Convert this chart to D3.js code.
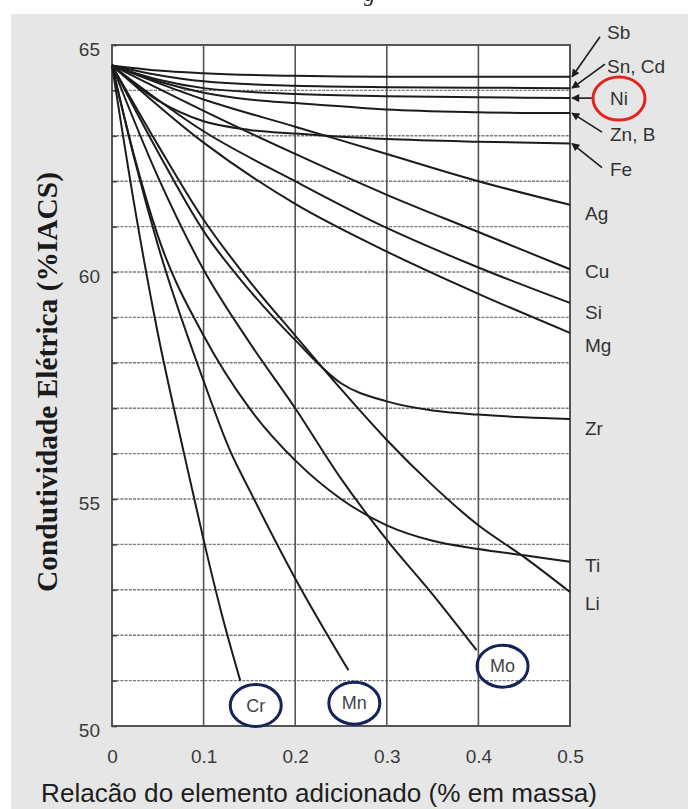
<!DOCTYPE html>
<html>
<head>
<meta charset="utf-8">
<script src="https://cdn.jsdelivr.net/npm/d3@7/dist/d3.min.js"></script>
<style>
  html, body { margin: 0; padding: 0; background: #ffffff; }
  svg { display: block; }
</style>
</head>
<body>
<svg id="chart" width="688" height="809"></svg>
<script>
// Electrical conductivity of copper (%IACS) versus amount of added element (% by mass)

const xTickValues = [0, 0.1, 0.2, 0.3, 0.4, 0.5];
const xTickLabels = ["0", "0.1", "0.2", "0.3", "0.4", "0.5"];
const yTickValues = [50, 51, 52, 53, 54, 55, 56, 57, 58, 59, 60, 61, 62, 63, 64, 65];
const yLabelledTicks = [50, 55, 60, 65];

const elements = ["Sb", "Sn, Cd", "Ni", "Zn, B", "Fe", "Ag", "Cu", "Si", "Mg", "Zr", "Ti", "Li", "Mo", "Mn", "Cr"];

// [added element %, conductivity %IACS]
const sb   = [[0, 64.55], [0.05, 64.44], [0.1, 64.38], [0.2, 64.32], [0.3, 64.3], [0.4, 64.3], [0.5, 64.3]];
const snCd = [[0, 64.55], [0.05, 64.34], [0.1, 64.2], [0.2, 64.1], [0.3, 64.07], [0.4, 64.06], [0.5, 64.05]];
const ni   = [[0, 64.55], [0.05, 64.24], [0.1, 64.05], [0.2, 63.92], [0.3, 63.87], [0.4, 63.85], [0.5, 63.83]];
const znB  = [[0, 64.55], [0.05, 64.2], [0.1, 63.95], [0.15, 63.8], [0.2, 63.72], [0.25, 63.65], [0.3, 63.58], [0.4, 63.52], [0.5, 63.5]];
const fe   = [[0, 64.55], [0.05, 63.78], [0.1, 63.32], [0.15, 63.13], [0.2, 63.05], [0.25, 62.98], [0.3, 62.93], [0.4, 62.87], [0.5, 62.83]];
const ag   = [[0, 64.55], [0.1, 63.8], [0.2, 63.2], [0.3, 62.6], [0.4, 62.0], [0.5, 61.48]];
const cu   = [[0, 64.55], [0.1, 63.55], [0.2, 62.6], [0.3, 61.7], [0.4, 60.88], [0.5, 60.06]];
const si   = [[0, 64.55], [0.1, 63.1], [0.2, 62.0], [0.3, 60.97], [0.4, 60.1], [0.5, 59.32]];
const mg   = [[0, 64.55], [0.1, 62.85], [0.2, 61.5], [0.3, 60.45], [0.4, 59.52], [0.5, 58.66]];
const zr   = [[0, 64.55], [0.05, 62.65], [0.1, 60.9], [0.15, 59.6], [0.2, 58.5], [0.25, 57.55], [0.3, 57.15], [0.35, 56.95], [0.4, 56.86], [0.45, 56.8], [0.5, 56.76]];
const ti   = [[0, 64.55], [0.025, 62.5], [0.05, 60.8], [0.1, 58.6], [0.15, 57.0], [0.2, 55.85], [0.25, 55.0], [0.3, 54.42], [0.35, 54.08], [0.4, 53.9], [0.45, 53.76], [0.5, 53.62]];
const li   = [[0, 64.55], [0.05, 62.8], [0.1, 61.15], [0.15, 59.8], [0.2, 58.6], [0.25, 57.42], [0.3, 56.3], [0.35, 55.3], [0.4, 54.42], [0.45, 53.72], [0.5, 52.95]];
const mo   = [[0, 64.55], [0.05, 62.1], [0.1, 60.05], [0.15, 58.45], [0.2, 57.0], [0.25, 55.45], [0.3, 54.1], [0.35, 52.9], [0.398, 51.67]];
const mn   = [[0, 64.55], [0.025, 62.45], [0.05, 60.6], [0.1, 57.6], [0.129, 56.06], [0.15, 55.2], [0.2, 53.25], [0.258, 51.23]];
const cr   = [[0, 64.55], [0.025, 61.4], [0.05, 58.65], [0.078, 56.06], [0.1, 54.1], [0.12, 52.45], [0.14, 51.0]];

const seriesValues = [sb, snCd, ni, znB, fe, ag, cu, si, mg, zr, ti, li, mo, mn, cr];

// ---- layout ----
const W = 688, H = 809;
const plot = { left: 112, right: 570, top: 45, bottom: 726 };

const x = d3.scaleLinear().domain([0, 0.5]).range([plot.left, plot.right]);
const y = d3.scaleLinear().domain([50, 65]).range([plot.bottom, plot.top]);

const svg = d3.select("#chart");
const sans = "'Liberation Sans', Arial, Helvetica, sans-serif";
const serif = "'Liberation Serif', 'Times New Roman', serif";

// page panel
svg.append("rect").attr("x", 0).attr("y", 0).attr("width", W).attr("height", H).attr("fill", "#ffffff");
svg.append("rect").attr("x", 11).attr("y", 14).attr("width", W - 11).attr("height", H - 14).attr("fill", "#e6e6e6");

// tail of the caption line above the figure
svg.append("text").attr("x", 364).attr("y", 1)
  .attr("font-family", serif).attr("font-style", "italic").attr("font-size", 22)
  .attr("fill", "#222").text("g");

// plot background
svg.append("rect")
  .attr("x", plot.left).attr("y", plot.top)
  .attr("width", plot.right - plot.left).attr("height", plot.bottom - plot.top)
  .attr("fill", "#ffffff");

// horizontal grid (every 1 %IACS)
svg.append("g").selectAll("line")
  .data(yTickValues.filter(v => v > 50 && v < 65))
  .join("line")
  .attr("x1", plot.left).attr("x2", plot.right)
  .attr("y1", d => y(d)).attr("y2", d => y(d))
  .attr("stroke", "#7a7a7a").attr("stroke-width", 1.4)
  .attr("stroke-dasharray", "3,1.2");

// vertical grid
svg.append("g").selectAll("line")
  .data(xTickValues.filter(v => v > 0 && v < 0.5))
  .join("line")
  .attr("x1", d => x(d)).attr("x2", d => x(d))
  .attr("y1", plot.top).attr("y2", plot.bottom)
  .attr("stroke", "#555").attr("stroke-width", 1.6);

// frame
svg.append("rect")
  .attr("x", plot.left).attr("y", plot.top)
  .attr("width", plot.right - plot.left).attr("height", plot.bottom - plot.top)
  .attr("fill", "none").attr("stroke", "#555").attr("stroke-width", 2);

// y axis (inward ticks)
const yAxis = svg.append("g")
  .attr("transform", `translate(${plot.left},0)`)
  .call(d3.axisLeft(y).tickValues(yTickValues).tickSize(-5).tickPadding(12)
    .tickFormat(d => yLabelledTicks.includes(d) ? d : ""));
yAxis.select(".domain").remove();
yAxis.selectAll(".tick line").attr("stroke", "#444").attr("stroke-width", 1.6);
yAxis.selectAll(".tick text")
  .attr("font-family", sans).attr("font-size", 19).attr("fill", "#3a3a3a")
  .attr("y", 4);

// x axis
const xAxis = svg.append("g")
  .attr("transform", `translate(0,${plot.bottom})`)
  .call(d3.axisBottom(x).tickValues(xTickValues).tickSize(0).tickPadding(24)
    .tickFormat((d, i) => xTickLabels[i]));
xAxis.select(".domain").remove();
xAxis.selectAll(".tick text")
  .attr("font-family", sans).attr("font-size", 19).attr("fill", "#3a3a3a");

// curves
const line = d3.line()
  .x(d => x(d[0]))
  .y(d => y(d[1]))
  .curve(d3.curveMonotoneX);

svg.append("g").selectAll("path")
  .data(seriesValues)
  .join("path")
  .attr("d", line)
  .attr("fill", "none")
  .attr("stroke", "#1c1c1c")
  .attr("stroke-width", 2)
  .attr("stroke-linejoin", "round");

// ---- annotations ----
const endOf = name => {
  const s = seriesValues[elements.indexOf(name)];
  const p = s[s.length - 1];
  return [x(p[0]), y(p[1])];
};

// arrowhead
svg.append("defs").append("marker")
  .attr("id", "arrowhead")
  .attr("viewBox", "0 0 10 10")
  .attr("refX", 9).attr("refY", 5)
  .attr("markerWidth", 9).attr("markerHeight", 8)
  .attr("markerUnits", "userSpaceOnUse")
  .attr("orient", "auto")
  .append("path").attr("d", "M0,0 L10,5 L0,10 Z").attr("fill", "#1c1c1c");

// labels pointed to with arrows (offsets from the curve end, px)
const arrowNotes = [
  { name: "Sb",     tdx: 37, tdy: -44, adx: 30, ady: -40 },
  { name: "Sn, Cd", tdx: 37, tdy: -22, adx: 35, ady: -24 },
  { name: "Ni",     tdx: 40, tdy: 0,   adx: 22, ady: 0 },
  { name: "Zn, B",  tdx: 40, tdy: 21,  adx: 32, ady: 19 },
  { name: "Fe",     tdx: 40, tdy: 26,  adx: 32, ady: 24 }
];

const notes = svg.append("g");
arrowNotes.forEach(n => {
  const [ex, ey] = endOf(n.name);
  notes.append("line")
    .attr("x1", ex + n.adx).attr("y1", ey + n.ady)
    .attr("x2", ex + 2).attr("y2", ey)
    .attr("stroke", "#1c1c1c").attr("stroke-width", 1.6)
    .attr("marker-end", "url(#arrowhead)");
  notes.append("text")
    .attr("x", ex + n.tdx).attr("y", ey + n.tdy).attr("dy", "0.35em")
    .attr("font-family", sans).attr("font-size", 19).attr("fill", "#333")
    .text(n.name);
});

// Ni highlighted in red
{
  const [ex, ey] = endOf("Ni");
  notes.append("ellipse")
    .attr("cx", ex + 49).attr("cy", ey + 0.5).attr("rx", 26).attr("ry", 21.5)
    .attr("fill", "none").attr("stroke", "#e3231c").attr("stroke-width", 3);
}

// plain labels at the right edge (vertical offsets from curve end, px)
const sideNotes = [
  { name: "Ag", dy: 9 }, { name: "Cu", dy: 2 }, { name: "Si", dy: 9 }, { name: "Mg", dy: 13 },
  { name: "Zr", dy: 9 }, { name: "Ti", dy: 4 }, { name: "Li", dy: 11 }
];
sideNotes.forEach(n => {
  const [ex, ey] = endOf(n.name);
  notes.append("text")
    .attr("x", ex + 15).attr("y", ey + n.dy).attr("dy", "0.35em")
    .attr("font-family", sans).attr("font-size", 19).attr("fill", "#333")
    .text(n.name);
});

// circled labels below curve ends
const circledNotes = [
  { name: "Cr", dx: 15.5, dy: 25 },
  { name: "Mn", dx: 6,    dy: 33 },
  { name: "Mo", dx: 26,   dy: 16 }
];
circledNotes.forEach(n => {
  const [ex, ey] = endOf(n.name);
  const cx = ex + n.dx, cy = ey + n.dy;
  notes.append("ellipse")
    .attr("cx", cx).attr("cy", cy).attr("rx", 25.5).attr("ry", 21)
    .attr("fill", "none").attr("stroke", "#14245a").attr("stroke-width", 3);
  notes.append("text")
    .attr("x", cx).attr("y", cy).attr("dy", "0.35em")
    .attr("text-anchor", "middle")
    .attr("font-family", sans).attr("font-size", 18).attr("fill", "#444")
    .text(n.name);
});

// axis titles, sized to their span
function fitText(sel, target, startSize) {
  sel.attr("font-size", startSize);
  const len = sel.node().getComputedTextLength();
  if (len > 0) sel.attr("font-size", startSize * target / len);
}

const yTitle = svg.append("text")
  .attr("transform", "translate(47,382) rotate(-90)")
  .attr("text-anchor", "middle").attr("dy", "0.35em")
  .attr("font-family", serif).attr("font-weight", "bold").attr("fill", "#1a1a1a")
  .text("Condutividade Elétrica (%IACS)");
fitText(yTitle, 420, 28);

const xTitle = svg.append("text")
  .attr("x", 319).attr("y", 802)
  .attr("text-anchor", "middle")
  .attr("font-family", sans).attr("fill", "#1e1e1e")
  .text("Relacão do elemento adicionado (% em massa)");
fitText(xTitle, 556, 24);
</script>
</body>
</html>
